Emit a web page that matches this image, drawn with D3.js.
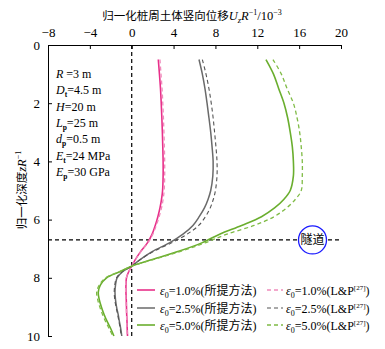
<!DOCTYPE html>
<html><head><meta charset="utf-8">
<script src="https://cdn.jsdelivr.net/npm/d3@7"></script>
<style>body{margin:0;background:#fff}svg{display:block}text{font-family:"Liberation Serif","Noto Sans CJK SC",serif}</style>
</head><body><svg id="c" width="385" height="349"></svg>
<script>
const depth = [0.5,1,1.5,2,2.5,3,3.5,4,4.5,5,5.3,5.6,5.9,6.2,6.5,6.8,7.1,7.4,7.6,7.8,8.0,8.25,8.5,8.75,9,9.25,9.5,9.75,10];
const pinkSolid = [2.54,2.65,2.75,2.82,2.88,2.93,2.97,3.0,3.0,2.95,2.85,2.7,2.5,2.25,1.95,1.5,0.85,0.3,0,-0.3,-0.5,-0.55,-0.55,-0.52,-0.5,-0.48,-0.45,-0.43,-0.4];
const pinkDash  = [2.7,2.8,2.9,2.97,3.03,3.08,3.12,3.15,3.15,3.1,3.0,2.85,2.62,2.35,2.02,1.55,0.88,0.32,0,-0.3,-0.52,-0.58,-0.58,-0.55,-0.52,-0.5,-0.47,-0.45,-0.42];
const graySolid = [6.43,6.75,7.0,7.2,7.38,7.55,7.68,7.78,7.75,7.55,7.3,6.95,6.45,5.85,4.9,3.6,1.95,0.7,0,-0.9,-1.4,-1.55,-1.6,-1.55,-1.45,-1.3,-1.18,-1.05,-0.95];
const grayDash  = [6.75,7.1,7.38,7.6,7.78,7.92,8.05,8.15,8.15,8.0,7.8,7.5,7.05,6.4,5.3,3.8,2.05,0.72,0,-0.95,-1.45,-1.62,-1.67,-1.62,-1.5,-1.35,-1.22,-1.1,-1.0];
const greenSolid= [12.83,13.55,14.05,14.55,14.9,15.15,15.35,15.45,15.45,15.15,14.55,13.65,12.4,10.5,8.4,6.7,4.4,1.7,0,-1.2,-2.4,-3.0,-3.2,-3.1,-2.9,-2.65,-2.35,-2.0,-1.7];
const greenDash = [13.5,14.3,14.85,15.45,15.8,16.05,16.2,16.3,16.3,16.2,15.65,14.8,13.6,11.7,9.1,7.0,4.6,1.8,0,-1.25,-2.5,-3.1,-3.35,-3.25,-3.05,-2.8,-2.5,-2.15,-1.8];
const xTicks = [-8,-4,0,4,8,12,16,20];
const yTicks = [0,2,4,6,8,10];
const tunnelDepth = 6.7;
const params = [["R"," =3 m",""],["D","=4.5 m","t"],["H","=20 m",""],["L","=25 m","p"],["d","=0.5 m","p"],["E","=24 MPa","t"],["E","=30 GPa","p"]];
const seriesNames = ["1.0","2.5","5.0"];

const svg = d3.select("#c");
const x = d3.scaleLinear().domain([-8,20]).range([48,341]);
const y = d3.scaleLinear().domain([0,10]).range([45,336]);
const CJK = "Noto Sans CJK SC";

const series = [
  {v:pinkSolid, c:"#e8308a", dash:null, w:1.6},
  {v:pinkDash, c:"#f08cbc", dash:"4,3", w:1.3},
  {v:graySolid, c:"#6a6a6a", dash:null, w:1.5},
  {v:grayDash, c:"#555", dash:"4,3", w:1.1},
  {v:greenSolid, c:"#6aae2e", dash:null, w:1.6},
  {v:greenDash, c:"#7fbb45", dash:"4,3", w:1.3}
];

svg.append("line").attr("x1",x(0)).attr("x2",x(0)).attr("y1",y(0)).attr("y2",y(10))
  .attr("stroke","#000").attr("stroke-dasharray","4,3").attr("stroke-width",1.2);
svg.append("line").attr("x1",x(-8)).attr("x2",x(20)).attr("y1",y(tunnelDepth)).attr("y2",y(tunnelDepth))
  .attr("stroke","#000").attr("stroke-dasharray","4,3").attr("stroke-width",1.2);

const line = d3.line().x(d=>x(d[0])).y(d=>y(d[1])).curve(d3.curveCatmullRom.alpha(0.5));
series.forEach(s=>{
  svg.append("path").attr("d", line(s.v.map((v,i)=>[v,depth[i]])))
    .attr("fill","none").attr("stroke",s.c).attr("stroke-width",s.w)
    .attr("stroke-dasharray",s.dash);
});

const ax = svg.append("g").attr("transform",`translate(0,${y(0)})`)
  .call(d3.axisTop(x).tickValues(xTicks).tickSizeInner(-4).tickSizeOuter(0).tickPadding(8));
const ay = svg.append("g").attr("transform",`translate(${x(-8)},0)`)
  .call(d3.axisLeft(y).tickValues(yTicks).tickSizeInner(-4).tickSizeOuter(0).tickPadding(6));
[ax,ay].forEach(g=>{
  g.selectAll("text").attr("font-size",13).attr("fill","#000").style("font-family","Liberation Serif");
  g.selectAll("line").attr("stroke","#000");
  g.select(".domain").attr("stroke","#000");
});
ay.selectAll(".tick text").attr("dx",-2);

const t = svg.append("text").attr("x",192).attr("y",20).attr("text-anchor","middle").attr("font-size",12.5);
t.append("tspan").text("归一化桩周土体竖向位移").style("font-family",CJK).attr("font-size",11.5);
t.append("tspan").text("U").attr("font-style","italic");
t.append("tspan").text("z").attr("font-style","italic").attr("font-size",8.5).attr("dy",3);
t.append("tspan").text("R").attr("font-style","italic").attr("dy",-3);
t.append("tspan").text("−1").attr("font-size",8).attr("dy",-5);
t.append("tspan").text("/10").attr("dy",5);
t.append("tspan").text("−3").attr("font-size",8).attr("dy",-5);

const yt = svg.append("text").attr("transform","translate(26,190) rotate(-90)").attr("text-anchor","middle").attr("font-size",12.5);
yt.append("tspan").text("归一化深度").style("font-family",CJK).attr("font-size",11.5);
yt.append("tspan").text("z").attr("font-style","italic");
yt.append("tspan").text("R").attr("font-style","italic");
yt.append("tspan").text("−1").attr("font-size",8).attr("dy",-5);

params.forEach((p,i)=>{
  const tx = svg.append("text").attr("x",56).attr("y",78+i*16.3).attr("font-size",12);
  tx.append("tspan").text(p[0]).attr("font-style","italic");
  if(p[2]) { tx.append("tspan").text(p[2]).attr("font-size",7.5).attr("font-weight","bold").attr("dy",3); tx.append("tspan").text(p[1]).attr("dy",-3); }
  else tx.append("tspan").text(p[1]);
});

svg.append("circle").attr("cx",312.5).attr("cy",y(tunnelDepth)).attr("r",14)
  .attr("fill","#fff").attr("stroke","#1a1aff").attr("stroke-width",1.3);
svg.append("text").attr("x",312.5).attr("y",y(tunnelDepth)+4.5).attr("text-anchor","middle")
  .attr("font-size",12).style("font-family",CJK).text("隧道");

const rows = [290,308,325];
seriesNames.forEach((n,i)=>{
  const sS = series[i*2], sD = series[i*2+1];
  svg.append("line").attr("x1",137).attr("x2",155).attr("y1",rows[i]).attr("y2",rows[i])
    .attr("stroke",sS.c).attr("stroke-width",sS.w);
  const a = svg.append("text").attr("x",160).attr("y",rows[i]+4.5).attr("font-size",12);
  a.append("tspan").text("ε").attr("font-style","italic");
  a.append("tspan").text("0").attr("font-size",8).attr("dy",3);
  a.append("tspan").text("="+n+"%(").attr("dy",-3);
  a.append("tspan").text("所提方法").style("font-family",CJK).attr("font-size",12);
  a.append("tspan").text(")");
  svg.append("line").attr("x1",267).attr("x2",283).attr("y1",rows[i]).attr("y2",rows[i])
    .attr("stroke",sD.c).attr("stroke-width",sD.w).attr("stroke-dasharray","4,3");
  const b = svg.append("text").attr("x",286).attr("y",rows[i]+4.5).attr("font-size",12);
  b.append("tspan").text("ε").attr("font-style","italic");
  b.append("tspan").text("0").attr("font-size",8).attr("dy",3);
  b.append("tspan").text("="+n+"%(L&P").attr("dy",-3);
  b.append("tspan").text("[27]").attr("font-size",7).attr("dy",-5);
  b.append("tspan").text(")").attr("dy",5);
});
</script></body></html>
